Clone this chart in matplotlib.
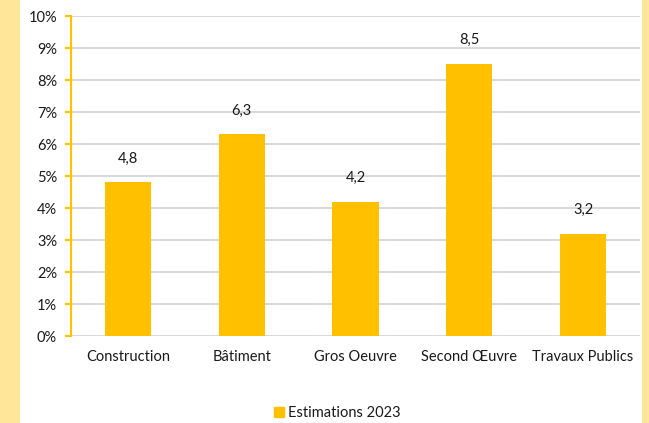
import matplotlib
matplotlib.use("Agg")
import matplotlib.pyplot as plt
from matplotlib.patches import Rectangle
from matplotlib.lines import Line2D

categories = ["Construction", "Bâtiment", "Gros Oeuvre", "Second Œuvre", "Travaux Publics"]
values = [4.8, 6.3, 4.2, 8.5, 3.2]
yticks = list(range(0, 11))
series_name = "Estimations 2023"

BAR = "#FFC000"
SIDE = "#FFE699"
GRID = "#D9D9D9"
TXT = "#1a1a1a"

plt.rcParams["font.family"] = ["Lato", "DejaVu Sans"]

W, H = 649, 423
fig = plt.figure(figsize=(W / 100, H / 100), dpi=100)
fig.patch.set_facecolor("white")

# pale side strips framing the chart
fig.add_artist(Rectangle((0, 0), 20 / W, 1, transform=fig.transFigure,
                         facecolor=SIDE, edgecolor="none", zorder=0))
fig.add_artist(Rectangle((642 / W, 0), 7 / W, 1, transform=fig.transFigure,
                         facecolor=SIDE, edgecolor="none", zorder=0))

left, right = 71 / W, 640 / W
bottom, top = 1 - 336 / H, 1 - 16 / H
ax = fig.add_axes([left, bottom, right - left, top - bottom])
ax.set_facecolor("none")

x = list(range(len(categories)))
ax.bar(x, values, width=0.405, color=BAR, zorder=3)
for xi, v in zip(x, values):
    ax.annotate(f"{v:.1f}".replace(".", ","), (xi, v), xytext=(0, 12),
                textcoords="offset points", ha="center", va="bottom",
                fontsize=10.5, color=TXT)

ax.set_xlim(-0.5, len(categories) - 0.5)
ax.set_ylim(0, 10)
ax.set_yticks(yticks)
ax.set_yticklabels([f"{t}%" for t in yticks])
ax.set_xticks(x)
ax.set_xticklabels(categories)

ax.yaxis.grid(True, color=GRID, linewidth=1.5, zorder=0)
ax.set_axisbelow(True)
for s in ("top", "right", "bottom"):
    ax.spines[s].set_visible(False)
ax.spines["left"].set_color(BAR)
ax.spines["left"].set_linewidth(1.5)
ax.spines["left"].set_zorder(4)

ax.tick_params(axis="y", length=4, width=1.5, color=BAR, pad=6,
               labelsize=10.5, labelcolor=TXT)
ax.tick_params(axis="x", length=0, pad=10, labelsize=10.5, labelcolor=TXT)

handle = Line2D([], [], marker="s", linestyle="none", markersize=7,
                color=BAR)
fig.legend([handle], [series_name], loc="center",
           bbox_to_anchor=(336 / W, 1 - 413 / H), frameon=False,
           fontsize=10.5, handletextpad=0.1, handlelength=1.0,
           labelcolor=TXT)

fig.savefig("out.png", dpi=100, facecolor="white")
